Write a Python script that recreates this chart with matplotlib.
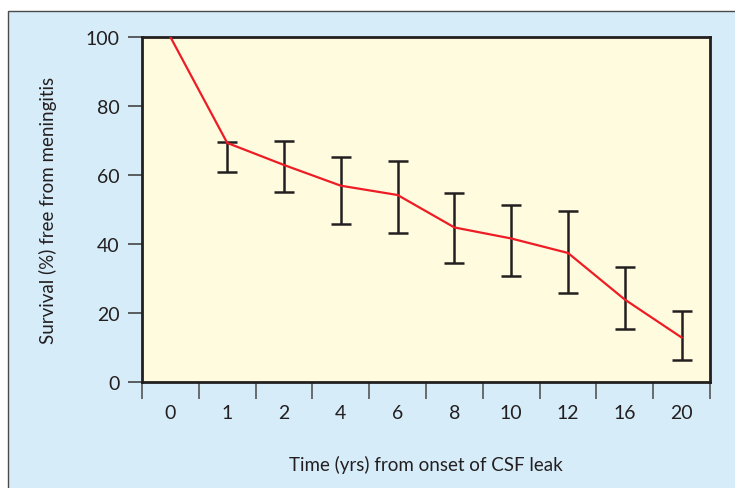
import matplotlib
matplotlib.use('Agg')
import matplotlib.pyplot as plt
from matplotlib.patches import Rectangle

# Data
time_labels = ['0', '1', '2', '4', '6', '8', '10', '12', '16', '20']
survival = [100, 69.3, 62.9, 56.9, 54.2, 44.8, 41.6, 37.4, 23.9, 12.9]
err_upper = [None, 69.6, 69.8, 65.1, 64.1, 54.7, 51.2, 49.7, 33.2, 20.5]
err_lower = [None, 60.8, 55.1, 45.8, 43.2, 34.6, 30.6, 25.7, 15.3, 6.5]

plt.rcParams['font.family'] = ['Lato', 'DejaVu Sans']

W, H = 735, 489
fig = plt.figure(figsize=(W / 100, H / 100), dpi=100)
fig.patch.set_facecolor('white')

# light blue panel with thin border on top and left
panel = Rectangle((8 / W, -0.1), 1.2, 1 - 12 / H + 0.1, transform=fig.transFigure,
                  facecolor='#d6ecf9', edgecolor='#4a4a4a', linewidth=1.0, zorder=-10)
fig.add_artist(panel)

ax = fig.add_axes([142 / W, 1 - 383 / H, (710 - 142) / W, (383 - 38) / H])
ax.set_zorder(5)
ax.set_facecolor('#fefbdf')

x = [i + 0.5 for i in range(len(time_labels))]
ax.plot(x, survival, color='#ee1c25', linewidth=1.6, zorder=3)

ex = x[1:]
ey = survival[1:]
lo = [s - l for s, l in zip(ey, err_lower[1:])]
hi = [u - s for s, u in zip(ey, err_upper[1:])]
ax.errorbar(ex, ey, yerr=[lo, hi], fmt='none', ecolor='#231f20',
            elinewidth=1.8, capsize=7.5, capthick=1.8, zorder=2)

ax.set_xlim(0, len(time_labels))
ax.set_ylim(0, 100)

# boundary ticks (no labels) and category labels at centres
ax.set_xticks(range(len(time_labels) + 1))
ax.set_xticklabels([])
ax.set_xticks(x, minor=True)
ax.set_xticklabels(time_labels, minor=True)
ax.tick_params(axis='x', which='major', length=12, width=1.2, color='#555555', direction='out')
ax.tick_params(axis='x', which='minor', length=0, pad=16, labelsize=14, labelcolor='#231f20')

ax.set_yticks([0, 20, 40, 60, 80, 100])
ax.tick_params(axis='y', length=10, width=1.2, color='#444444', pad=6,
               labelsize=14, labelcolor='#231f20')

for s in ax.spines.values():
    s.set_linewidth(2)
    s.set_color('#231f20')

ax.set_xlabel('Time (yrs) from onset of CSF leak', fontsize=13.5, color='#231f20', labelpad=24)
ax.set_ylabel('Survival (%) free from meningitis', fontsize=13.5, color='#231f20', labelpad=21)

fig.savefig('out.png', dpi=100, facecolor=fig.get_facecolor())
